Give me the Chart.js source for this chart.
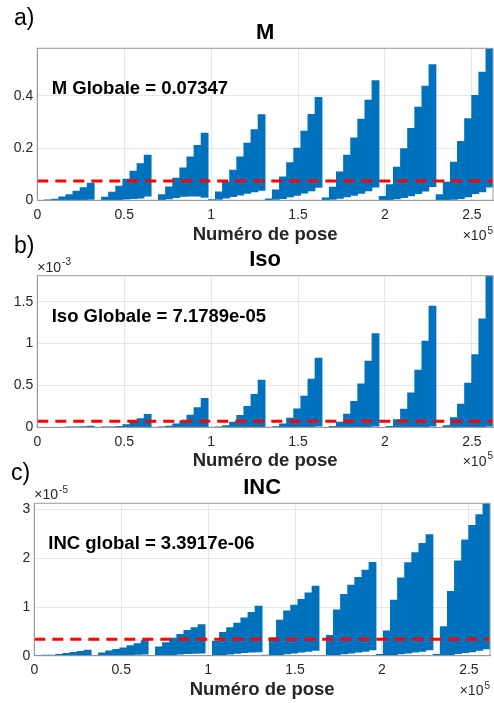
<!DOCTYPE html>
<html><head><meta charset="utf-8">
<script src="https://cdn.jsdelivr.net/npm/chart.js@4/dist/chart.umd.min.js"></script>
<style>
html,body{margin:0;padding:0;background:#fff;width:494px;height:703px;overflow:hidden}
canvas{position:absolute;left:0;top:0}
</style></head>
<body>
<canvas id="ca" width="494" height="703"></canvas>
<canvas id="cb" width="494" height="703"></canvas>
<canvas id="cc" width="494" height="703"></canvas>
<script>
// ---------- data ----------
const STEP = 4096;            // poses per step (8 steps per group, 8 groups)
const X_MAX = 262144;
const xTicks = [0, 50000, 100000, 150000, 200000, 250000];
const xTickLabels = ['0', '0.5', '1', '1.5', '2', '2.5'];

// Panel a) M  (upper / lower envelope per step, grouped by 8)
const mUpper = [
  [0.000, 0.001, 0.005, 0.013, 0.022, 0.035, 0.049, 0.066],
  [0.000, 0.012, 0.031, 0.054, 0.081, 0.112, 0.141, 0.173],
  [0.000, 0.022, 0.052, 0.085, 0.124, 0.166, 0.210, 0.257],
  [0.003, 0.032, 0.070, 0.116, 0.166, 0.219, 0.271, 0.328],
  [0.006, 0.040, 0.090, 0.144, 0.200, 0.265, 0.329, 0.394],
  [0.009, 0.051, 0.109, 0.173, 0.239, 0.311, 0.384, 0.458],
  [0.015, 0.060, 0.127, 0.198, 0.276, 0.357, 0.437, 0.520],
  [0.022, 0.070, 0.146, 0.226, 0.313, 0.402, 0.491, 0.582]
];
const mLower = [
  [0, 0, 0, 0, 0, 0.001, 0.002, 0.003],
  [0, 0, 0.001, 0.002, 0.004, 0.006, 0.008, 0.016],
  [0, 0.002, 0.005, 0.010, 0.015, 0.016, 0.016, 0.011],
  [0, 0.003, 0.008, 0.014, 0.020, 0.026, 0.032, 0.038],
  [0, 0.003, 0.006, 0.013, 0.019, 0.027, 0.036, 0.049],
  [0, 0.003, 0.007, 0.013, 0.019, 0.026, 0.036, 0.050],
  [0, 0.002, 0.005, 0.010, 0.017, 0.025, 0.035, 0.052],
  [0, 0.002, 0.003, 0.006, 0.013, 0.025, 0.032, 0.050]
];
const mGlobal = 0.07347;
const mYTicks = [0, 0.2, 0.4];
const mYLabels = ['0', '0.2', '0.4'];

// Panel b) Iso  (values in units of 1e-3)
const isoUpper = [
  [0, 0, 0, 0, 0.001, 0.004, 0.008, 0.016],
  [0, 0.001, 0.004, 0.012, 0.032, 0.063, 0.103, 0.155],
  [0, 0.002, 0.016, 0.040, 0.079, 0.147, 0.234, 0.345],
  [0, 0.004, 0.020, 0.063, 0.143, 0.250, 0.393, 0.563],
  [0, 0.008, 0.040, 0.111, 0.222, 0.373, 0.575, 0.825],
  [0, 0.012, 0.063, 0.159, 0.310, 0.520, 0.790, 1.120],
  [0, 0.012, 0.091, 0.218, 0.413, 0.683, 1.028, 1.448],
  [0, 0.020, 0.115, 0.278, 0.528, 0.869, 1.294, 1.810]
];
const isoLower = [
  [0, 0, 0, 0, 0, 0, 0, 0],
  [0, 0, 0, 0, 0, 0, 0.001, 0.002],
  [0, 0, 0, 0, 0.001, 0.002, 0.003, 0.004],
  [0, 0, 0, 0.001, 0.002, 0.003, 0.005, 0.007],
  [0, 0, 0.001, 0.002, 0.004, 0.006, 0.009, 0.012],
  [0, 0, 0.001, 0.002, 0.004, 0.006, 0.009, 0.012],
  [0, 0, 0.001, 0.002, 0.004, 0.006, 0.009, 0.012],
  [0, 0, 0.001, 0.002, 0.004, 0.006, 0.009, 0.012]
];
const isoGlobal = 7.1789e-05;
const isoScale = 1e-3;
const isoYTicks = [0, 0.5, 1, 1.5];
const isoYLabels = ['0', '0.5', '1', '1.5'];

// Panel c) INC  (values in units of 1e-5)
const incUpper = [
  [0, 0.007, 0.014, 0.027, 0.048, 0.068, 0.089, 0.116],
  [0, 0.06, 0.10, 0.13, 0.16, 0.21, 0.25, 0.31],
  [0, 0.18, 0.27, 0.36, 0.44, 0.52, 0.58, 0.64],
  [0, 0.30, 0.48, 0.58, 0.67, 0.78, 0.89, 1.02],
  [0.01, 0.37, 0.73, 0.92, 1.04, 1.16, 1.29, 1.43],
  [0, 0.42, 0.94, 1.26, 1.45, 1.61, 1.76, 1.92],
  [0.03, 0.51, 1.14, 1.60, 1.91, 2.12, 2.31, 2.49],
  [0.03, 0.60, 1.32, 1.95, 2.38, 2.68, 2.90, 3.13]
];
const incLower = [
  [0, 0, 0, 0, 0, 0, 0.005, 0.01],
  [0, 0, 0.005, 0.01, 0.015, 0.02, 0.025, 0.03],
  [0, 0.005, 0.01, 0.02, 0.03, 0.04, 0.045, 0.05],
  [0, 0.01, 0.02, 0.03, 0.045, 0.06, 0.07, 0.08],
  [0, 0.01, 0.02, 0.035, 0.05, 0.07, 0.09, 0.11],
  [0, 0.01, 0.02, 0.035, 0.05, 0.07, 0.09, 0.12],
  [0, 0.01, 0.02, 0.035, 0.05, 0.07, 0.09, 0.12],
  [0, 0.01, 0.02, 0.04, 0.06, 0.08, 0.11, 0.14]
];
const incGlobal = 3.3917e-06;
const incScale = 1e-5;
const incYTicks = [0, 1, 2, 3];
const incYLabels = ['0', '1', '2', '3'];

// ---------- rendering ----------
const BLUE = '#0072BD';
const GRID = '#e6e6e6';
const AXIS = '#9a9a9a';
const TXT = '#262626';
const FAM = "'Liberation Sans', Arial, Helvetica, sans-serif";

function toBars(upper, lower) {
  const up = upper.flat(), lo = lower.flat();
  return up.map((v, k) => ({x: k * STEP + STEP / 2, y: [lo[k], v]}));
}

function powText(ctx, base, exp, x, y, align) {
  ctx.font = '14px ' + FAM;
  const wb = ctx.measureText(base).width;
  ctx.font = '10px ' + FAM;
  const we = ctx.measureText(exp).width;
  let x0 = align === 'right' ? x - wb - we - 1 : x;
  ctx.fillStyle = TXT;
  ctx.textAlign = 'left';
  ctx.textBaseline = 'alphabetic';
  ctx.font = '14px ' + FAM;
  ctx.fillText(base, x0, y);
  ctx.font = '10px ' + FAM;
  ctx.fillText(exp, x0 + wb + 1, y - 6.5);
}

function makeChart(id, P) {
  const decor = {
    id: 'decor',
    afterDatasetsDraw(chart) {
      const {ctx, chartArea: a} = chart;
      ctx.save();
      ctx.strokeStyle = AXIS;
      ctx.lineWidth = 1;
      ctx.strokeRect(a.left, a.top, a.right - a.left, a.bottom - a.top);
      ctx.restore();
    },
    afterDraw(chart) {
      const {ctx, chartArea: a} = chart;
      const cx = (a.left + a.right) / 2;
      ctx.save();
      ctx.fillStyle = '#000';
      ctx.textBaseline = 'alphabetic';
      ctx.textAlign = 'left';
      ctx.font = '23px ' + FAM;
      ctx.fillText(P.label, P.labelX, P.labelY);
      ctx.textAlign = 'center';
      ctx.font = 'bold 22px ' + FAM;
      ctx.fillText(P.title, cx, P.titleY);
      ctx.textAlign = 'left';
      ctx.font = 'bold 18.5px ' + FAM;
      ctx.fillText(P.note, P.noteX, P.noteY);
      ctx.textAlign = 'center';
      ctx.fillStyle = TXT;
      ctx.font = 'bold 18.5px ' + FAM;
      ctx.fillText('Numéro de pose', cx, P.xTitleY);
      powText(ctx, '\u00d710', '5', a.right, P.xTitleY, 'right');
      if (P.yExp) powText(ctx, '\u00d710', P.yExp, a.left, P.yExpY, 'left');
      ctx.restore();
    }
  };
  const tickFont = {family: FAM, size: 14};
  return new Chart(document.getElementById(id), {
    type: 'bar',
    data: {
      datasets: [
        {type: 'line', label: 'global', data: [{x: 0, y: P.global}, {x: X_MAX, y: P.global}],
         borderColor: '#ff0000', borderWidth: 3, borderDash: [11, 7], pointRadius: 0, fill: false, order: 0},
        {type: 'bar', label: 'band', data: toBars(P.upper, P.lower), backgroundColor: BLUE,
         borderWidth: 0, barPercentage: 1, categoryPercentage: 1, order: 1}
      ]
    },
    options: {
      responsive: false, animation: false, devicePixelRatio: 1,
      layout: {padding: {left: 0, right: 494 - P.right, top: P.top, bottom: 703 - P.bottom - 20}},
      plugins: {legend: {display: false}, tooltip: {enabled: false}, title: {display: false}},
      scales: {
        x: {
          type: 'linear', min: 0, max: X_MAX, offset: false,
          afterBuildTicks: s => { s.ticks = xTicks.map(v => ({value: v})); },
          afterFit: s => { s.height = 20; },
          ticks: {callback: v => xTickLabels[xTicks.indexOf(v)], font: tickFont, color: TXT,
                  padding: 6, maxRotation: 0, autoSkip: false},
          grid: {color: GRID, drawTicks: false, offset: false},
          border: {color: AXIS}
        },
        y: {
          min: 0, max: P.yMax,
          afterBuildTicks: s => { s.ticks = P.yTicks.map(v => ({value: v})); },
          afterFit: s => { s.width = P.left; },
          ticks: {callback: v => P.yLabels[P.yTicks.indexOf(v)], font: tickFont, color: TXT, padding: 4},
          grid: {color: GRID, drawTicks: false},
          border: {color: AXIS}
        }
      }
    },
    plugins: [decor]
  });
}

makeChart('ca', {
  upper: mUpper, lower: mLower, global: mGlobal, yMax: 0.582, yTicks: mYTicks, yLabels: mYLabels,
  left: 37.3, right: 493, top: 48.3, bottom: 200.3,
  label: 'a)', labelX: 14, labelY: 25, title: 'M', titleY: 39.3,
  note: 'M Globale = 0.07347', noteX: 51.7, noteY: 94.3, xTitleY: 240
});
makeChart('cb', {
  upper: isoUpper, lower: isoLower, global: isoGlobal / isoScale, yMax: 1.81, yTicks: isoYTicks, yLabels: isoYLabels,
  left: 37.3, right: 493, top: 275.7, bottom: 427.3,
  label: 'b)', labelX: 14, labelY: 253, title: 'Iso', titleY: 265.7,
  note: 'Iso Globale = 7.1789e-05', noteX: 51.7, noteY: 321.7, xTitleY: 465.5,
  yExp: '-3', yExpY: 271.7
});
makeChart('cc', {
  upper: incUpper, lower: incLower, global: incGlobal / incScale, yMax: 3.13, yTicks: incYTicks, yLabels: incYLabels,
  left: 34.3, right: 490, top: 503.3, bottom: 655.7,
  label: 'c)', labelX: 11, labelY: 480, title: 'INC', titleY: 494.3,
  note: 'INC global = 3.3917e-06', noteX: 48.3, noteY: 549.3, xTitleY: 695,
  yExp: '-5', yExpY: 499.3
});
</script>
</body></html>
